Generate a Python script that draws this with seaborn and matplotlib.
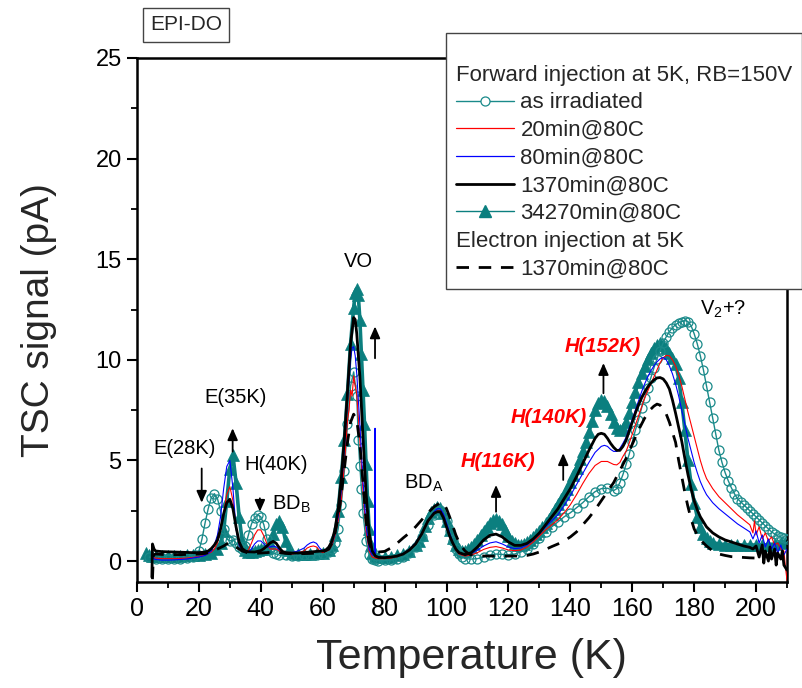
import numpy as np
import pandas as pd
import matplotlib
matplotlib.use("Agg")
import matplotlib.pyplot as plt
from matplotlib.lines import Line2D
from matplotlib.ticker import MultipleLocator
import seaborn as sns

# ---------------- data (T in K, TSC signal in pA) ----------------
as_irradiated = [
    (4, 0.2), (6, 0.12), (8, 0.1), (10, 0.1), (12, 0.1), (14, 0.12), (16, 0.15), (18, 0.2),
    (19, 0.3), (20, 0.5), (21, 1.1), (22, 1.9), (23, 2.6), (24, 3.15), (25, 3.35), (26, 3.1),
    (27, 2.5), (28, 1.6), (29, 1.1), (30, 1.0), (31, 1.05), (32, 0.9), (33, 0.7), (34, 0.6),
    (35, 0.75), (36, 1.3), (37, 1.85), (38, 2.15), (39, 2.3), (40, 2.2), (41, 1.8), (42, 1.1),
    (43, 0.6), (44, 0.4), (45, 0.35), (46, 0.3), (48, 0.28), (50, 0.27), (52, 0.27), (54, 0.28),
    (56, 0.3), (58, 0.32), (60, 0.35), (62, 0.45), (63, 0.6), (64, 0.9), (65, 1.6), (66, 2.8),
    (67, 4.5), (68, 6.8), (69, 8.7), (70, 9.4), (71, 8.2), (71.5, 6.0), (72, 4.7), (72.5, 3.6),
    (73, 2.4), (74, 1.0), (75, 0.3), (76, 0.08), (77, 0.03), (78, 0.02), (80, 0.03), (82, 0.05),
    (84, 0.1), (86, 0.2), (88, 0.4), (90, 0.7), (92, 1.2), (94, 1.8), (96, 2.3), (97, 2.5),
    (98, 2.55), (99, 2.4), (100, 2.0), (101, 1.5), (102, 1.0), (103, 0.6), (104, 0.35), (105, 0.2),
    (106, 0.12), (108, 0.1), (110, 0.12), (112, 0.2), (114, 0.3), (116, 0.35), (118, 0.33),
    (120, 0.32), (122, 0.35), (124, 0.45), (126, 0.6), (128, 0.85), (130, 1.15), (132, 1.45),
    (134, 1.7), (136, 1.95), (138, 2.2), (140, 2.4), (142, 2.65), (144, 2.9), (146, 3.2),
    (148, 3.45), (150, 3.6), (152, 3.62), (154, 3.5), (155, 3.6), (156, 3.9), (157, 4.3),
    (158, 4.8), (159, 5.3), (160, 5.9), (161, 6.5), (162, 7.0), (163, 7.6), (164, 8.1),
    (165, 8.6), (166, 9.1), (167, 9.6), (168, 10.05), (169, 10.45), (170, 10.85), (171, 11.15),
    (172, 11.4), (173, 11.6), (174, 11.75), (175, 11.85), (176, 11.9), (177, 11.95), (178, 11.9),
    (179, 11.7), (180, 11.3), (181, 10.8), (182, 10.2), (183, 9.5), (184, 8.7), (185, 7.9),
    (186, 7.1), (187, 6.3), (188, 5.5), (189, 4.9), (190, 4.4), (191, 4.0), (192, 3.65),
    (193, 3.35), (194, 3.1), (195, 2.95), (196, 2.8), (197, 2.65), (198, 2.5), (199, 2.35),
    (200, 2.2), (201, 2.05), (202, 1.9), (203, 1.75), (204, 1.6), (205, 1.45), (206, 1.35),
    (207, 1.25), (208, 1.2), (209, 1.15), (210, 1.1),
]

anneal_20min = [
    (5, 0.4), (5.5, 0.15), (6, 0.15), (8, 0.12), (10, 0.12), (12, 0.12), (14, 0.13), (16, 0.15),
    (18, 0.18), (20, 0.22), (22, 0.3), (24, 0.45), (25, 0.6), (26, 0.9), (27, 1.5), (28, 2.4),
    (29, 3.3), (30, 3.7), (31, 3.0), (32, 1.6), (33, 0.8), (34, 0.5), (35, 0.45), (36, 0.55),
    (37, 0.9), (38, 1.3), (39, 1.55), (40, 1.55), (41, 1.25), (42, 0.85), (43, 0.6), (44, 0.6),
    (45, 0.6), (46, 0.5), (48, 0.38), (50, 0.35), (52, 0.4), (54, 0.5), (55, 0.65), (56, 0.72),
    (57, 0.75), (58, 0.7), (59, 0.5), (60, 0.42), (62, 0.55), (63, 0.8), (64, 1.3), (65, 2.0),
    (66, 3.0), (67, 4.8), (68, 7.0), (68.5, 7.5), (69, 8.5), (69.5, 8.2), (70, 9.2), (70.5, 8.7),
    (71, 8.3), (72, 6.0), (73, 3.5), (74, 1.5), (75, 0.5), (76, 0.2), (77, 0.15), (78, 0.12),
    (80, 0.12), (82, 0.15), (84, 0.22), (86, 0.35), (88, 0.55), (90, 0.85), (92, 1.35),
    (94, 1.95), (96, 2.35), (97, 2.5), (98, 2.5), (99, 2.25), (100, 1.8), (101, 1.3), (102, 0.9),
    (103, 0.55), (104, 0.35), (106, 0.25), (108, 0.3), (110, 0.42), (112, 0.58), (114, 0.68),
    (116, 0.72), (118, 0.65), (120, 0.55), (122, 0.52), (124, 0.55), (126, 0.7), (128, 0.95),
    (130, 1.25), (132, 1.55), (134, 1.8), (136, 2.05), (138, 2.4), (140, 2.8), (142, 3.3),
    (144, 3.85), (146, 4.35), (148, 4.75), (150, 4.95), (152, 4.95), (154, 4.8), (155, 4.78),
    (156, 4.9), (157, 5.2), (158, 5.45), (159, 5.85), (160, 6.3), (161, 6.75), (162, 7.2),
    (163, 7.65), (164, 8.1), (165, 8.45), (166, 8.8), (167, 9.15), (168, 9.5), (169, 9.85),
    (170, 10.1), (171, 10.22), (172, 10.2), (173, 10.0), (174, 9.7), (175, 9.25), (176, 8.7),
    (177, 8.05), (178, 7.4), (179, 6.8), (180, 6.2), (181, 5.6), (182, 5.0), (183, 4.5),
    (184, 4.1), (186, 3.6), (188, 3.2), (190, 2.9), (192, 2.6), (194, 2.3), (196, 2.05),
    (198, 1.8), (199, 1.4), (199.5, 2.0), (200, 1.3), (201, 1.7), (202, 1.1), (203, 1.4),
    (204, 1.0), (205, 1.2), (206, 0.8), (207, 0.9), (208, 0.6), (209, 0.5), (209.5, -0.3),
    (210, -0.95),
]

anneal_80min = [
    (5, 0.3), (5.5, 0.1), (6, 0.08), (8, 0.05), (10, 0.05), (12, 0.06), (14, 0.08), (16, 0.1),
    (18, 0.15), (20, 0.2), (22, 0.28), (24, 0.5), (25, 0.8), (26, 1.3), (27, 2.2), (28, 3.6),
    (29, 4.7), (30, 5.0), (31, 3.6), (32, 1.6), (33, 0.8), (34, 0.5), (35, 0.42), (36, 0.45),
    (37, 0.6), (38, 0.85), (39, 1.0), (40, 1.0), (41, 0.85), (42, 0.7), (43, 0.7), (44, 0.75),
    (45, 0.7), (46, 0.55), (48, 0.42), (50, 0.42), (52, 0.5), (54, 0.65), (55, 0.8), (56, 0.9),
    (57, 0.95), (58, 0.88), (59, 0.65), (60, 0.5), (62, 0.6), (63, 0.9), (64, 1.4), (65, 2.2),
    (66, 3.5), (67, 5.6), (68, 8.0), (69, 10.0), (69.5, 10.6), (70, 10.65), (70.5, 10.2),
    (71, 9.3), (72, 6.8), (73, 4.0), (74, 1.8), (75, 0.6), (76, 0.3), (76.8, 0.28), (76.9, 6.6),
    (77.0, 0.28), (78, 0.2), (80, 0.18), (82, 0.2), (84, 0.25), (86, 0.38), (88, 0.58),
    (90, 0.9), (92, 1.4), (94, 2.0), (96, 2.45), (97, 2.6), (98, 2.6), (99, 2.35), (100, 1.9),
    (101, 1.4), (102, 0.95), (103, 0.6), (104, 0.4), (106, 0.3), (108, 0.38), (110, 0.55),
    (112, 0.75), (114, 0.9), (116, 0.96), (118, 0.85), (120, 0.7), (122, 0.62), (124, 0.65),
    (126, 0.8), (128, 1.05), (130, 1.35), (132, 1.7), (134, 2.0), (136, 2.3), (138, 2.75),
    (140, 3.25), (142, 3.8), (144, 4.35), (146, 4.9), (148, 5.4), (150, 5.7), (151, 5.75),
    (152, 5.7), (153, 5.55), (154, 5.45), (155, 5.45), (156, 5.6), (157, 5.85), (158, 6.15),
    (159, 6.6), (160, 7.05), (161, 7.5), (162, 7.95), (163, 8.4), (164, 8.8), (165, 9.15),
    (166, 9.45), (167, 9.7), (168, 9.9), (169, 10.05), (170, 10.12), (171, 10.0), (172, 9.7),
    (173, 9.3), (174, 8.8), (175, 8.2), (176, 7.5), (177, 6.8), (178, 6.1), (179, 5.5),
    (180, 4.9), (181, 4.4), (182, 3.95), (183, 3.6), (184, 3.3), (186, 2.9), (188, 2.6),
    (190, 2.35), (192, 2.1), (194, 1.85), (196, 1.65), (198, 1.45), (199, 1.1), (200, 1.5),
    (201, 0.9), (202, 1.3), (203, 0.7), (204, 1.1), (205, 0.6), (206, 0.9), (207, 0.4),
    (208, 0.8), (209, 0.3), (210, 0.6),
]

anneal_1370min = [
    (4.8, -0.8), (5.0, 0.85), (5.5, 0.6), (6, 0.5), (8, 0.47), (10, 0.46), (12, 0.45), (14, 0.44),
    (16, 0.43), (18, 0.42), (20, 0.42), (22, 0.45), (23, 0.5), (24, 0.62), (25, 0.8), (26, 1.05),
    (27, 1.6), (28, 2.35), (29, 2.9), (30, 3.07), (31, 2.6), (32, 1.7), (33, 0.95), (34, 0.62),
    (35, 0.5), (36, 0.46), (38, 0.45), (40, 0.52), (41, 0.62), (42, 0.75), (43, 0.9), (44, 0.98),
    (45, 0.88), (46, 0.65), (47, 0.48), (48, 0.42), (50, 0.4), (52, 0.4), (54, 0.42), (56, 0.45),
    (58, 0.48), (60, 0.5), (61, 0.55), (62, 0.7), (63, 1.0), (64, 1.6), (65, 2.6), (66, 4.1),
    (67, 6.1), (68, 8.4), (69, 10.8), (70, 12.1), (70.5, 12.0), (71, 11.3), (72, 9.2), (73, 6.2),
    (74, 3.4), (75, 1.4), (76, 0.5), (77, 0.25), (78, 0.18), (80, 0.17), (82, 0.2), (84, 0.25),
    (86, 0.35), (88, 0.55), (90, 0.85), (92, 1.35), (94, 2.0), (96, 2.38), (97, 2.45), (98, 2.45),
    (99, 2.15), (100, 1.7), (101, 1.25), (102, 0.9), (103, 0.6), (104, 0.42), (106, 0.32),
    (108, 0.42), (110, 0.7), (112, 1.05), (114, 1.28), (116, 1.34), (118, 1.2), (120, 0.95),
    (122, 0.78), (124, 0.78), (126, 0.88), (128, 1.1), (130, 1.4), (132, 1.8), (134, 2.2),
    (136, 2.6), (138, 3.1), (140, 3.6), (142, 4.2), (144, 4.85), (146, 5.5), (148, 6.1),
    (149, 6.3), (150, 6.35), (151, 6.3), (152, 6.1), (153, 5.85), (154, 5.65), (155, 5.5),
    (156, 5.5), (157, 5.7), (158, 6.0), (159, 6.45), (160, 6.9), (161, 7.35), (162, 7.75),
    (163, 8.1), (164, 8.4), (165, 8.65), (166, 8.85), (167, 9.0), (168, 9.1), (169, 9.12),
    (170, 9.05), (171, 8.85), (172, 8.55), (173, 8.0), (174, 7.35), (175, 6.65), (176, 5.95),
    (177, 5.1), (178, 4.3), (179, 3.6), (180, 3.0), (181, 2.55), (182, 2.2), (183, 1.95),
    (184, 1.7), (186, 1.4), (188, 1.2), (190, 1.05), (192, 0.95), (194, 0.85), (196, 0.75),
    (198, 0.68), (199, 0.6), (200, 0.75), (201, 0.2), (202, 0.8), (202.5, -0.1), (203, 0.5),
    (204, 0.0), (204.5, 0.7), (205, 0.1), (206, 0.6), (206.5, -0.2), (207, 0.4), (208, 0.1),
    (208.5, 0.5), (209, -0.2), (210, -0.45),
]

anneal_34270min = [
    (3, 0.4), (4, 0.3), (5, 0.25), (6, 0.25), (8, 0.25), (10, 0.25), (12, 0.25), (14, 0.27),
    (16, 0.3), (18, 0.3), (20, 0.32), (22, 0.35), (24, 0.4), (26, 0.6), (27, 0.9), (28, 1.5),
    (29, 3.0), (30, 4.6), (31, 5.25), (32, 3.9), (33, 2.2), (34, 1.0), (35, 0.55), (36, 0.45),
    (37, 0.45), (38, 0.5), (39, 0.55), (40, 0.6), (41, 0.6), (42, 0.65), (43, 0.9), (44, 1.35),
    (45, 1.85), (46, 2.0), (47, 1.7), (48, 1.0), (49, 0.55), (50, 0.4), (52, 0.33), (54, 0.33),
    (56, 0.35), (58, 0.38), (60, 0.42), (62, 0.55), (63, 0.8), (64, 1.3), (65, 2.5), (66, 4.2),
    (67, 6.0), (68, 8.3), (69, 10.8), (70, 12.6), (70.5, 13.3), (71, 13.5), (71.5, 13.2),
    (72, 12.0), (72.5, 10.3), (73, 8.5), (73.5, 6.8), (74, 4.8), (74.5, 3.0), (75, 1.6),
    (75.5, 0.8), (76, 0.4), (77, 0.25), (78, 0.2), (80, 0.2), (82, 0.22), (84, 0.28), (86, 0.35),
    (88, 0.5), (90, 0.8), (91, 1.0), (92, 1.3), (93, 1.75), (94, 2.15), (95, 2.45), (96, 2.6),
    (97, 2.7), (98, 2.65), (99, 2.4), (100, 2.0), (101, 1.55), (102, 1.15), (103, 0.8), (104, 0.6),
    (105, 0.52), (106, 0.52), (107, 0.58), (108, 0.7), (109, 0.85), (110, 1.05), (111, 1.3),
    (112, 1.5), (113, 1.7), (114, 1.9), (115, 2.05), (116, 2.08), (117, 2.0), (118, 1.82),
    (119, 1.55), (120, 1.25), (121, 1.02), (122, 0.88), (123, 0.8), (124, 0.8), (125, 0.85),
    (126, 0.95), (127, 1.05), (128, 1.2), (129, 1.35), (130, 1.5), (131, 1.68), (132, 1.88),
    (133, 2.1), (134, 2.35), (135, 2.6), (136, 2.85), (137, 3.1), (138, 3.35), (139, 3.6),
    (140, 3.95), (141, 4.3), (142, 4.65), (143, 5.05), (144, 5.45), (145, 5.9), (146, 6.4),
    (147, 6.95), (148, 7.5), (149, 7.85), (150, 8.0), (151, 7.95), (152, 7.7), (153, 7.3),
    (154, 6.9), (155, 6.6), (156, 6.5), (157, 6.6), (158, 6.9), (159, 7.35), (160, 7.9),
    (161, 8.4), (162, 8.9), (163, 9.35), (164, 9.7), (165, 10.05), (166, 10.35), (167, 10.6),
    (168, 10.75), (169, 10.82), (170, 10.75), (171, 10.6), (172, 10.35), (173, 10.1), (174, 9.8),
    (175, 9.1), (176, 7.9), (177, 6.5), (178, 5.0), (179, 3.85), (180, 2.9), (181, 2.2),
    (182, 1.7), (183, 1.35), (184, 1.15), (185, 1.0), (186, 0.92), (188, 0.85), (190, 0.82),
    (192, 0.8), (194, 0.8), (196, 0.8), (198, 0.8), (200, 0.8), (202, 0.8), (204, 0.82),
    (206, 0.85), (208, 0.9), (210, 1.05),
]

electron_1370min = [
    (5, -0.9), (5.3, 0.3), (6, 0.35), (8, 0.33), (10, 0.32), (12, 0.32), (14, 0.32), (16, 0.33),
    (18, 0.34), (20, 0.35), (22, 0.38), (24, 0.45), (26, 0.6), (28, 0.75), (29, 0.85), (30, 0.9),
    (31, 0.85), (32, 0.7), (34, 0.5), (36, 0.4), (38, 0.38), (40, 0.4), (42, 0.42), (44, 0.45),
    (46, 0.42), (48, 0.38), (50, 0.36), (52, 0.36), (54, 0.37), (56, 0.38), (58, 0.4), (60, 0.45),
    (62, 0.6), (63, 0.9), (64, 1.4), (65, 2.2), (66, 3.3), (67, 4.6), (68, 5.9), (69, 6.9),
    (70, 7.3), (71, 7.0), (72, 5.8), (73, 3.9), (74, 2.0), (75, 0.9), (76, 0.5), (77, 0.45),
    (78, 0.45), (80, 0.48), (82, 0.65), (84, 0.88), (86, 1.15), (88, 1.4), (90, 1.7), (92, 2.05),
    (94, 2.4), (96, 2.7), (98, 2.9), (99, 2.9), (100, 2.6), (101, 2.2), (102, 1.75), (103, 1.3),
    (104, 0.95), (105, 0.7), (106, 0.5), (107, 0.38), (108, 0.3), (110, 0.27), (112, 0.25),
    (114, 0.25), (116, 0.25), (118, 0.25), (120, 0.25), (122, 0.25), (124, 0.25), (126, 0.28),
    (128, 0.35), (130, 0.45), (132, 0.58), (134, 0.72), (136, 0.85), (138, 1.0), (140, 1.2),
    (142, 1.45), (144, 1.8), (146, 2.15), (148, 2.55), (150, 3.0), (152, 3.45), (154, 3.9),
    (156, 4.5), (158, 5.1), (160, 5.8), (162, 6.5), (164, 7.1), (166, 7.55), (167, 7.7),
    (168, 7.8), (169, 7.75), (170, 7.55), (171, 7.3), (172, 6.9), (173, 6.4), (174, 5.9),
    (175, 5.0), (176, 4.2), (177, 3.4), (178, 2.7), (179, 2.1), (180, 1.6), (181, 1.3),
    (182, 1.05), (184, 0.75), (186, 0.5), (188, 0.35), (190, 0.28), (192, 0.22), (194, 0.2),
    (196, 0.18), (198, 0.16), (200, 0.15),
]

x_ticks = [0, 20, 40, 60, 80, 100, 120, 140, 160, 180, 200]
y_ticks = [0, 5, 10, 15, 20, 25]

# ---------------- style ----------------
sns.set_style("ticks")
plt.rcParams["font.family"] = ["Liberation Sans", "DejaVu Sans"]
plt.rcParams["mathtext.default"] = "regular"

TEAL = "#1a8a8a"
TEAL_DARK = "#0b7f7f"

fig = plt.figure(figsize=(8.03, 6.88), dpi=100)
ax = fig.add_axes([137 / 803, 1 - 582 / 688, 650 / 803, 524 / 688])


def frame(points):
    arr = np.array(points, dtype=float)
    return pd.DataFrame({"T": arr[:, 0], "S": arr[:, 1]})


d_irr = frame(as_irradiated)
d_20 = frame(anneal_20min)
d_80 = frame(anneal_80min)
d_1370 = frame(anneal_1370min)
d_34270 = frame(anneal_34270min)
d_el = frame(electron_1370min)

common = dict(x="T", y="S", sort=False, estimator=None, ax=ax)

sns.lineplot(data=d_34270, color=TEAL_DARK, lw=2.6, marker="^", markersize=8,
             markerfacecolor=TEAL_DARK, markeredgecolor=TEAL_DARK, markeredgewidth=0.5,
             zorder=2, **common)
sns.lineplot(data=d_irr, color=TEAL, lw=1.0, marker="o", markersize=6.5,
             markerfacecolor="none", markeredgecolor=TEAL, markeredgewidth=0.9,
             zorder=3, **common)
sns.lineplot(data=d_20, color="#ff0000", lw=0.8, zorder=4, **common)
sns.lineplot(data=d_80, color="#0000ff", lw=0.8, zorder=5, **common)
sns.lineplot(data=d_1370, color="black", lw=2.0, zorder=6, **common)
sns.lineplot(data=d_el, color="black", lw=2.0, linestyle=(0, (4.5, 3.5)), zorder=7, **common)

ax.set_xlim(0, 210)
ax.set_ylim(-1.04, 25)
ax.set_xticks(x_ticks)
ax.set_yticks(y_ticks)
ax.xaxis.set_minor_locator(MultipleLocator(10))
ax.yaxis.set_minor_locator(MultipleLocator(2.5))
ax.tick_params(which="major", direction="out", length=7, width=1.5, labelsize=18, pad=4,
               color="black", labelcolor="black")
ax.tick_params(axis="y", which="major", labelsize=17)
ax.tick_params(which="minor", direction="out", length=4, width=1.3, color="black")
for sp in ax.spines.values():
    sp.set_visible(True)
    sp.set_linewidth(1.8)
    sp.set_color("black")

ax.set_xlabel("Temperature (K)", fontsize=31)
ax.set_ylabel("TSC signal (pA)", fontsize=28)
ax.xaxis.set_label_coords(0.515, -0.107)
ax.yaxis.set_label_coords(-0.123, 0.5)

# ---------------- annotations ----------------
txt = dict(fontsize=14.5, color="black")
ax.text(15.3, 5.6, "E(28K)", ha="center", va="center", **txt)
ax.text(31.7, 8.13, "E(35K)", ha="center", va="center", **txt)
ax.text(45.1, 4.78, "H(40K)", ha="center", va="center", **txt)
ax.text(43.5, 2.54, "BD$_{B}$", ha="left", va="baseline", **txt)
ax.text(71.4, 14.63, "VO", ha="center", va="baseline", **txt)
ax.text(86.3, 3.62, "BD$_{A}$", ha="left", va="baseline", **txt)
ax.text(181.9, 12.24, "V$_{2}$+?", ha="left", va="baseline", **txt)

red = dict(fontsize=14.5, color="#ff0000", fontweight="bold", fontstyle="italic",
           ha="center", va="center")
ax.text(116.7, 4.94, "H(116K)", **red)
ax.text(132.9, 7.14, "H(140K)", **red)
ax.text(150.6, 10.66, "H(152K)", **red)

arrow = dict(arrowstyle="-|>,head_length=0.5,head_width=0.22", color="black", lw=1.3,
             shrinkA=0, shrinkB=0, mutation_scale=14)
for (t, y0, y1) in [(20.9, 4.6, 2.9), (30.9, 5.44, 6.6), (39.7, 3.12, 2.45),
                    (76.9, 10.08, 11.66), (116.0, 2.45, 3.78), (137.7, 4.03, 5.36),
                    (150.7, 8.34, 9.84)]:
    ax.annotate("", xy=(t, y1), xytext=(t, y0), arrowprops=arrow, zorder=8)

fig.text(186 / 803, 1 - 25 / 688, "EPI-DO", ha="center", va="center", fontsize=15,
         bbox=dict(boxstyle="square,pad=0.35", fc="white", ec="#444444", lw=1.0))

# ---------------- legend ----------------
header1 = "Forward injection at 5K, RB=150V"
header2 = "Electron injection at 5K"
handles = [
    Line2D([], [], color="none"),
    Line2D([], [], color=TEAL, lw=1.0, marker="o", markersize=6.5, markerfacecolor="white",
           markeredgecolor=TEAL, markeredgewidth=0.9),
    Line2D([], [], color="#ff0000", lw=0.9),
    Line2D([], [], color="#0000ff", lw=0.9),
    Line2D([], [], color="black", lw=2.0),
    Line2D([], [], color=TEAL_DARK, lw=1.0, marker="^", markersize=8,
           markerfacecolor=TEAL_DARK, markeredgecolor=TEAL_DARK),
    Line2D([], [], color="none"),
    Line2D([], [], color="black", lw=2.0, linestyle=(0, (4.5, 3.5))),
]
labels = [header1, "as irradiated", "20min@80C", "80min@80C", "1370min@80C",
          "34270min@80C", header2, "1370min@80C"]
leg = ax.legend(handles, labels, loc="upper left", bbox_to_anchor=(446 / 803, 1 - 33 / 688),
                bbox_transform=fig.transFigure, borderaxespad=0, fontsize=16,
                frameon=True, fancybox=False, framealpha=1, edgecolor="#444444",
                handlelength=2.6, handletextpad=0.3, labelspacing=0.3, borderpad=0.45,
                numpoints=1, title=" ", title_fontsize=12)
leg.get_frame().set_linewidth(1.0)
leg.set_zorder(20)
for col in leg._legend_handle_box.get_children():
    for row in col.get_children():
        kids = row.get_children()
        if len(kids) == 2 and kids[1].get_text() in (header1, header2):
            kids[0].width = 0
            row.sep = 0

fig.savefig("out.png", dpi=100)
